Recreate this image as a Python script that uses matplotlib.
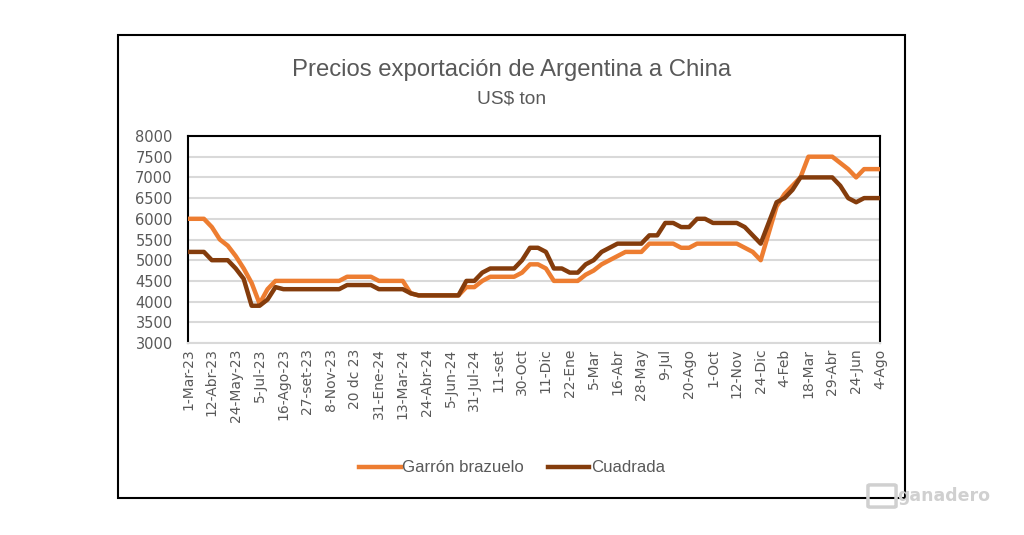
"""Precios exportación de Argentina a China - garrón/brazuelo y cuadrada."""
import matplotlib
matplotlib.use('Agg')
import matplotlib.pyplot as plt
import matplotlib.patches as mpatches
from matplotlib import font_manager
import numpy as np

# ─── Datos (quincenales, US$ por tonelada) ─────────────────────────────────
etiquetas = ['1-Mar-23', '12-Abr-23', '24-May-23', '5-Jul-23', '16-Ago-23',
             '27-set-23', '8-Nov-23', '20 dc 23', '31-Ene-24', '13-Mar-24',
             '24-Abr-24', '5-Jun-24', '31-Jul-24', '11-set', '30-Oct',
             '11-Dic', '22-Ene', '5-Mar', '16-Abr', '28-May', '9-Jul',
             '20-Ago', '1-Oct', '12-Nov', '24-Dic', '4-Feb', '18-Mar',
             '29-Abr', '24-Jun', '4-Ago']

garron = [6000, 6000, 6000, 5800, 5500, 5350, 5100, 4800, 4450, 3950,
          4300, 4500, 4500, 4500, 4500, 4500, 4500, 4500, 4500, 4500,
          4600, 4600, 4600, 4600, 4500, 4500, 4500, 4500, 4200, 4150,
          4150, 4150, 4150, 4150, 4150, 4350, 4350, 4500, 4600, 4600,
          4600, 4600, 4700, 4900, 4900, 4800, 4500, 4500, 4500, 4500,
          4650, 4750, 4900, 5000, 5100, 5200, 5200, 5200, 5400, 5400,
          5400, 5400, 5300, 5300, 5400, 5400, 5400, 5400, 5400, 5400,
          5300, 5200, 5000, 5650, 6300, 6600, 6800, 7000, 7500, 7500,
          7500, 7500, 7350, 7200, 7000, 7200, 7200, 7200]

cuadrada = [5200, 5200, 5200, 5000, 5000, 5000, 4800, 4550, 3900, 3900,
            4050, 4350, 4300, 4300, 4300, 4300, 4300, 4300, 4300, 4300,
            4400, 4400, 4400, 4400, 4300, 4300, 4300, 4300, 4200, 4150,
            4150, 4150, 4150, 4150, 4150, 4500, 4500, 4700, 4800, 4800,
            4800, 4800, 5000, 5300, 5300, 5200, 4800, 4800, 4700, 4700,
            4900, 5000, 5200, 5300, 5400, 5400, 5400, 5400, 5600, 5600,
            5900, 5900, 5800, 5800, 6000, 6000, 5900, 5900, 5900, 5900,
            5800, 5600, 5400, 5900, 6400, 6500, 6700, 7000, 7000, 7000,
            7000, 7000, 6800, 6500, 6400, 6500, 6500, 6500]

# ─── Colores ───────────────────────────────────────────────────────────────
C_NARANJA = '#ED7D31'
C_MARRON = '#843C0C'
C_TXT = '#595959'
C_GRID = '#D9D9D9'

nombres = {f.name for f in font_manager.fontManager.ttflist}
if 'Liberation Sans Narrow' in nombres:
    F_NARROW, esc = 'Liberation Sans Narrow', 1.0
else:
    F_NARROW, esc = 'Liberation Sans', 0.86

fig = plt.figure(figsize=(10.24, 5.35), dpi=100)
fig.patch.set_facecolor('white')

# borde exterior del gráfico
fig.add_artist(mpatches.Rectangle((118/1024, 1-498/535), (905-118)/1024, (498-35)/535,
                                  transform=fig.transFigure, fill=False,
                                  ec='black', lw=1.5, zorder=0))

ax = fig.add_axes([188/1024, 1-343/535, (880-188)/1024, (343-136)/535])

x = np.arange(len(garron))
ax.plot(x, garron, color=C_NARANJA, lw=3.2, label='Garrón brazuelo', zorder=3)
ax.plot(x, cuadrada, color=C_MARRON, lw=3.2, label='Cuadrada', zorder=4)

ax.set_xlim(0, len(garron) - 1)
ax.set_ylim(3000, 8000)
ax.set_yticks(np.arange(3000, 8001, 500))
ax.set_xticks(x[::3])
ax.set_xticklabels(etiquetas, rotation=90, va='top', ha='center')

ax.yaxis.grid(True, color=C_GRID, lw=1.5)
ax.set_axisbelow(True)
ax.tick_params(axis='y', length=0, pad=11, labelsize=10.5, labelcolor=C_TXT)
ax.tick_params(axis='x', length=0, pad=4, labelsize=10, labelcolor=C_TXT)

for lado in ['left', 'top', 'right']:
    ax.spines[lado].set_color('black')
    ax.spines[lado].set_linewidth(1.5)
ax.spines['bottom'].set_color(C_GRID)
ax.spines['bottom'].set_linewidth(1.5)

# titulos
fig.text(0.5, 1-70/535, 'Precios exportación de Argentina a China',
         ha='center', va='center', fontsize=20*esc, color=C_TXT, family=F_NARROW)
fig.text(0.5, 1-99/535, 'US$ ton', ha='center', va='center',
         fontsize=16*esc, color=C_TXT, family=F_NARROW)

fig.legend(loc='center', bbox_to_anchor=(0.5, 1-468/535), ncol=2, frameon=False,
           handlelength=2.5, handletextpad=0.1, columnspacing=1.4,
           prop={'family': F_NARROW, 'size': 14*esc}, labelcolor=C_TXT)

# marca de agua
fig.add_artist(mpatches.FancyBboxPatch((870/1024, 1-506/535), 24/1024, 20/535,
                                       boxstyle='round,pad=0.002',
                                       transform=fig.transFigure, fill=False,
                                       ec='#D0D0D0', lw=2.5, zorder=1))
fig.text(944/1024, 1-496/535, 'ganadero', ha='center', va='center',
         fontsize=12.5, fontweight='bold', color='#D0D0D0', family='DejaVu Sans')

fig.savefig('out.png', dpi=100, facecolor='white')
